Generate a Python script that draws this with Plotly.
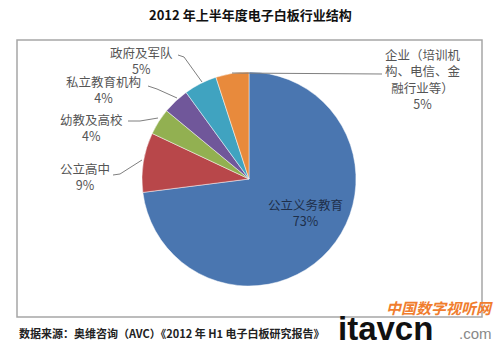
import plotly.graph_objects as go

W, H = 500, 351

labels = ["公立义务教育", "公立高中", "幼教及高校", "私立教育机构", "政府及军队", "企业（培训机构、电信、金融行业等）"]
values = [73, 9, 4, 4, 5, 5]
colors = ["#4A76B0", "#B8474A", "#92B051", "#70579A", "#40A3C0", "#E88A3C"]

title_text = "2012 年上半年度电子白板行业结构"
source_text = "数据来源：奥维咨询（AVC）《2012 年 H1 电子白板研究报告》"

def px(x):
    return x / W

def py(y):
    return 1 - y / H

cx, cy, r = 249, 179, 107

fig = go.Figure(go.Pie(
    labels=labels, values=values, sort=False, direction="clockwise", rotation=0,
    marker=dict(colors=colors, line=dict(color="rgba(255,255,255,0.6)", width=0.8)),
    textinfo="none", hoverinfo="label+percent", showlegend=False,
    domain=dict(x=[px(cx - r), px(cx + r)], y=[py(cy + r), py(cy - r)]),
))

lab_font = dict(family="Noto Sans CJK SC", size=12.5, color="#555555")
ann = []
# (center x, center y, displayed lines of the label)
pos = [
    (305, 213, [labels[0]]),
    (85, 176, [labels[1]]),
    (91, 128, [labels[2]]),
    (103, 90, [labels[3]]),
    (141, 60, [labels[4]]),
    (423, 79, ["企业（培训机", "构、电信、金", "融行业等）"]),
]
for i, (x, y, lines) in enumerate(pos):
    f = dict(lab_font)
    if i == 0:
        f["color"] = "#1E2F4A"
    t = "<br>".join(lines + [f"{values[i]}%"])
    ann.append(dict(x=px(x), y=py(y), xref="paper", yref="paper", text=t,
                    showarrow=False, font=f, xanchor="center", yanchor="middle"))

ann.append(dict(x=0.5, y=py(15), xref="paper", yref="paper", text="<b>" + title_text + "</b>",
                showarrow=False, xanchor="center", yanchor="middle",
                font=dict(family="Noto Sans CJK SC", size=13, color="#111111")))
ann.append(dict(x=px(17), y=py(333), xref="paper", yref="paper", text="<b>" + source_text + "</b>",
                showarrow=False, xanchor="left", yanchor="middle",
                font=dict(family="Noto Sans CJK SC", size=11, color="#222222")))
# watermark
ann.append(dict(x=px(495), y=py(307), xref="paper", yref="paper", text="<b><i>中国数字视听网</i></b>",
                showarrow=False, xanchor="right", yanchor="middle",
                font=dict(family="Noto Sans CJK SC", size=15, color="#F07D2E")))
ann.append(dict(x=px(336), y=py(328), xref="paper", yref="paper", text="<b>itavcn</b>",
                showarrow=False, xanchor="left", yanchor="middle",
                font=dict(family="Liberation Sans", size=33, color="#111111")))
ann.append(dict(x=px(457), y=py(333), xref="paper", yref="paper", text=".com",
                showarrow=False, xanchor="left", yanchor="middle",
                font=dict(family="Liberation Sans", size=15, color="#888888")))

def path(pts):
    s = "M " + " L ".join(f"{px(x)},{py(y)}" for x, y in pts)
    return dict(type="path", path=s, xref="paper", yref="paper",
                line=dict(color="#7F7F7F", width=1))

shapes = [
    dict(type="rect", xref="paper", yref="paper", x0=px(17), x1=px(482), y0=py(317), y1=py(40),
         line=dict(color="#A6A6A6", width=1.5)),
    path([(113, 175), (120, 174), (142, 160)]),
    path([(128, 121), (140, 121), (158, 118)]),
    path([(148, 86), (157, 89), (177, 98)]),
    path([(178, 55), (184, 57), (202, 82)]),
    path([(232, 73), (382, 74)]),
]

fig.update_layout(width=W, height=H, margin=dict(l=0, r=0, t=0, b=0),
                  paper_bgcolor="white", plot_bgcolor="white",
                  annotations=ann, shapes=shapes)
fig.write_html("out.html")
